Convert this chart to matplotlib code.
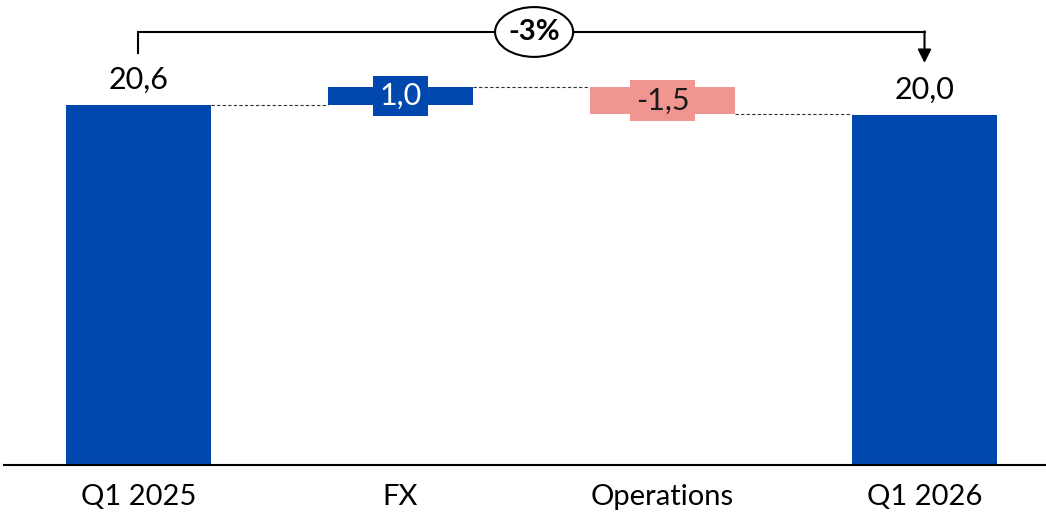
import numpy as np
import matplotlib.pyplot as plt
from matplotlib.patches import Ellipse

# Waterfall: Q1 2025 -> Q1 2026
categories = ['Q1 2025', 'FX', 'Operations', 'Q1 2026']
start_value = 20.6
deltas = [1.0, -1.5]
end_value = 20.0
change_label = '-3%'

BLUE = '#0048AE'
PINK = '#F09590'

plt.rcParams['font.family'] = ['Lato', 'DejaVu Sans']


def fmt(v):
    return f'{v:.1f}'.replace('.', ',')


fig = plt.figure(figsize=(10.46, 5.13), dpi=100)
ax = fig.add_axes([0, 0, 1, 1])
ax.set_xlim(-0.5286, 3.4637)
ax.set_ylim(-2.746, 26.60)
ax.axis('off')

width = 0.553
x = np.arange(len(categories))

# totals
ax.bar(x[0], start_value, width=width, color=BLUE, zorder=2)
ax.bar(x[3], end_value, width=width, color=BLUE, zorder=2)

# floating deltas
level = start_value
tops = [start_value]
for i, d in enumerate(deltas, start=1):
    color = BLUE if d > 0 else PINK
    ax.bar(x[i], d, bottom=level, width=width, color=color, zorder=2)
    mid = level + d / 2
    txt_color = 'white' if d > 0 else '#1a1a1a'
    ax.text(x[i], mid, fmt(d), ha='center', va='center', fontsize=22,
            color=txt_color, zorder=3,
            bbox=dict(boxstyle='square,pad=0.2', fc=color, ec='none'))
    level += d
    tops.append(level)

# dashed connectors between bars
for i in range(len(categories) - 1):
    ax.plot([x[i] + width / 2, x[i + 1] - width / 2], [tops[i], tops[i]],
            ls=(0, (3, 2)), lw=0.8, color='#333333', zorder=1)

# labels on totals
for xi, v in [(x[0], start_value), (x[3], end_value)]:
    ax.annotate(fmt(v), (xi, v), xytext=(0, 8), textcoords='offset points',
                ha='center', va='bottom', fontsize=22, color='black')

# baseline
ax.plot([-0.513, 3.4637], [0, 0], color='black', lw=1.5, zorder=3)

# category labels
for xi, c in zip(x, categories):
    ax.text(xi, -1.85, c, ha='center', va='center', fontsize=21)

# change bracket
y_br = 24.77
ax.plot([x[0], x[0], x[3]], [23.57, y_br, y_br], color='black', lw=1.5,
        solid_joinstyle='miter', zorder=3)
ax.annotate('', xy=(x[3], 23.0), xytext=(x[3], y_br + 0.04),
            arrowprops=dict(arrowstyle='-|>,head_length=0.8,head_width=0.4',
                            color='black', lw=1.5, shrinkA=0, shrinkB=0))
x_mid = (x[0] + x[3]) / 2 + 0.01
ax.add_patch(Ellipse((x_mid, y_br), width=0.298, height=2.85, fc='white',
                     ec='black', lw=1.5, zorder=4))
ax.text(x_mid, y_br, change_label, ha='center', va='center',
        fontsize=21, fontweight='bold', zorder=5)

fig.savefig('out.png', dpi=100)
